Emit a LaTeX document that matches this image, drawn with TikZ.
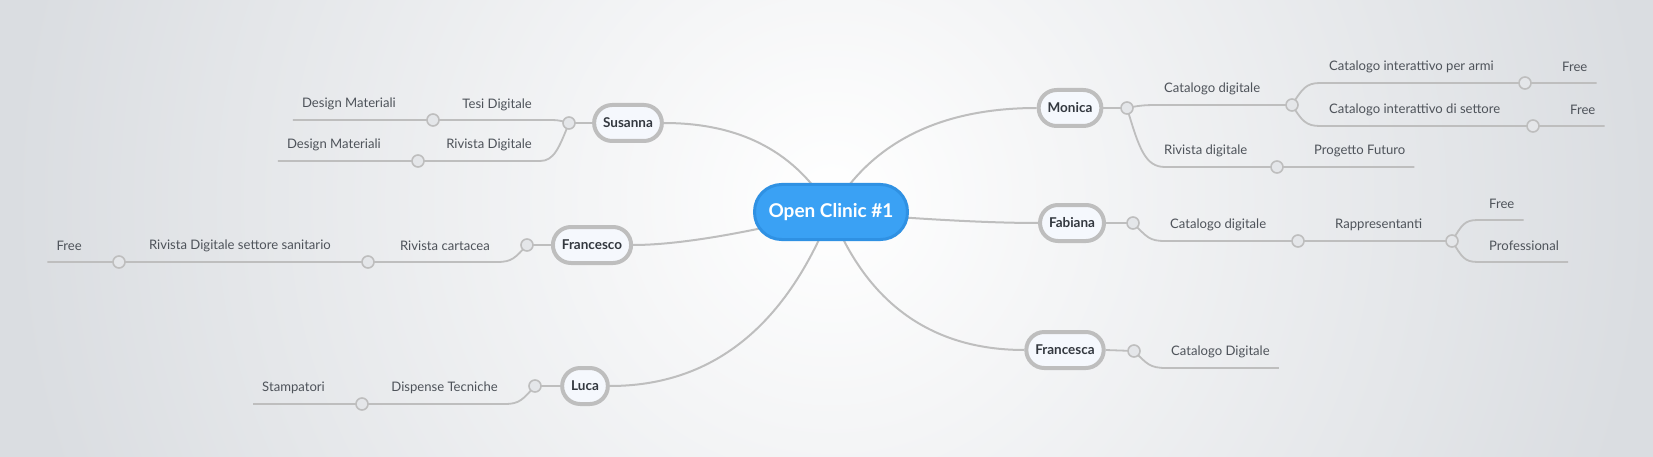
\documentclass[tikz,border=0pt]{standalone}
\usepackage{fontspec}
\setmainfont{Lato}
\usetikzlibrary{calc,backgrounds}
\definecolor{Sky}{HTML}{3AA1F4}
\definecolor{SkyEdge}{HTML}{2F91E3}
\definecolor{Canvas}{HTML}{DADDE1}
\definecolor{Wire}{HTML}{BEBEBE}
\definecolor{Ink}{HTML}{33383F}
\definecolor{SoftInk}{HTML}{4E535A}
\definecolor{Pill}{HTML}{F5F8FD}
\definecolor{Knob}{HTML}{E4E6E9}
\tikzset{
 hubnode/.style={draw=SkyEdge, line width=3pt, fill=Sky, rounded corners=27pt, minimum height=55pt, inner xsep=14pt, text=white, font=\fontsize{19}{22}\selectfont\bfseries},
 topicnode/.style={draw=Wire, line width=4pt, fill=Pill, rounded corners=18pt, minimum height=36pt, inner xsep=9pt, text=Ink, font=\fontsize{13.5}{16}\selectfont\bfseries},
 leafnode/.style={inner xsep=9pt, inner ysep=2pt, yshift=-2pt, text=SoftInk, font=\fontsize{13.1}{16}\selectfont},
 branchline/.style={draw=Wire, line width=2pt},
 twigline/.style={draw=Wire, line width=1.8pt},
 knob/.style={circle, draw=Wire, line width=1.6pt, fill=Knob, minimum size=12pt, inner sep=0pt}
}
\begin{document}
\begin{tikzpicture}[x=1pt,y=-1pt]
\useasboundingbox (0,0) rectangle (1653,457);
\begin{scope}[on background layer]
\clip (0,0) rectangle (1653,457);
\fill[Canvas] (0,0) rectangle (1653,457);
\shade[inner color=white, outer color=Canvas] (831,200) circle (820);
\end{scope}

% main topics
\node[hubnode] (hub) at (831,212) {Open Clinic \#1};
\node[topicnode] (sus) at (628,123) {Susanna};
\node[topicnode] (frc) at (592,245) {Francesco};
\node[topicnode] (luc) at (585,386) {Luca};
\node[topicnode] (mon) at (1070,108) {Monica};
\node[topicnode] (fab) at (1072,223) {Fabiana};
\node[topicnode] (fra) at (1065,350) {Francesca};

\begin{scope}[on background layer]
\draw[branchline] (hub.center) .. controls +(-34,-59) and +(78,0) .. (sus.east);
\draw[branchline] (hub.center) .. controls +(-87,22) and +(44,0) .. (frc.east);
\draw[branchline] (hub.center) .. controls +(-46,116) and +(101,0) .. (luc.east);
\draw[branchline] (hub.center) .. controls +(39,-69) and +(-97,0) .. (mon.west);
\draw[branchline] (hub.center) .. controls +(86,7) and +(-52,0) .. (fab.west);
\draw[branchline] (hub.center) .. controls +(36,92) and +(-92,0) .. (fra.west);
\end{scope}

% knobs and bends
\coordinate (monK) at (1127,108);
\coordinate (catK) at (1292,105);
\coordinate (armK) at (1525,83);
\coordinate (setK) at (1533,126);
\coordinate (rivK) at (1277,167);
\coordinate (fabK) at (1133,223);
\coordinate (fcatK) at (1298,241);
\coordinate (repK) at (1452,241);
\coordinate (fraK) at (1134,351);
\coordinate (susK) at (569,123);
\coordinate (tesiK) at (433,120);
\coordinate (srivK) at (418,161);
\coordinate (frcK) at (527,245);
\coordinate (cartK) at (368,262);
\coordinate (sanK) at (119,262);
\coordinate (lucK) at (535,386);
\coordinate (dispK) at (362,404);
\coordinate (monUp) at (1160,105);
\coordinate (monDn) at (1165,167);
\coordinate (catUp) at (1320,83);
\coordinate (catDn) at (1320,126);
\coordinate (fabDn) at (1165,241);
\coordinate (repUp) at (1478,220);
\coordinate (repDn) at (1478,262);
\coordinate (fraDn) at (1166,368);
\coordinate (susUp) at (545,120);
\coordinate (susDn) at (540,161);
\coordinate (frcDn) at (497,262);
\coordinate (lucDn) at (505,404);

% labels
\node[leafnode, anchor=west] (monCat) at (1155,87) {Catalogo digitale};
\node[leafnode, anchor=west] (monRiv) at (1155,149) {Rivista digitale};
\node[leafnode, anchor=west] (arm) at (1320,65) {Catalogo interattivo per armi};
\node[leafnode, anchor=west] (sett) at (1320,108) {Catalogo interattivo di settore};
\node[leafnode, anchor=west] (armFree) at (1553,65) {Free};
\node[leafnode, anchor=west] (setFree) at (1561,108) {Free};
\node[leafnode, anchor=west] (futuro) at (1305,149) {Progetto Futuro};
\node[leafnode, anchor=west] (fabCat) at (1161,223) {Catalogo digitale};
\node[leafnode, anchor=west] (rep) at (1326,223) {Rappresentanti};
\node[leafnode, anchor=west] (repFree) at (1480,202) {Free};
\node[leafnode, anchor=west] (repPro) at (1480,244) {Professional};
\node[leafnode, anchor=west] (fraCat) at (1162,350) {Catalogo Digitale};
\node[leafnode, anchor=east] (tesi) at (541,103) {Tesi Digitale};
\node[leafnode, anchor=east] (susRiv) at (541,143) {Rivista Digitale};
\node[leafnode, anchor=east] (desA) at (405,102) {Design Materiali};
\node[leafnode, anchor=east] (desB) at (390,143) {Design Materiali};
\node[leafnode, anchor=east] (cart) at (499,244) {Rivista cartacea};
\node[leafnode, anchor=east] (san) at (340,244) {Rivista Digitale settore sanitario};
\node[leafnode, anchor=east] (sanFree) at (91,244) {Free};
\node[leafnode, anchor=east] (disp) at (507,386) {Dispense Tecniche};
\node[leafnode, anchor=east] (stamp) at (334,386) {Stampatori};

% right side
\draw[twigline] (mon.east) -- (monK);
\draw[twigline] (monK) .. controls +(14,-3) and +(-12,0) .. (monUp) -- (catK);
\draw[twigline] (monK) .. controls +(12,40) and +(-20,0) .. (monDn) -- (rivK) -- (rivK -| futuro.east);
\draw[twigline] (catK) .. controls +(10,-16) and +(-14,0) .. (catUp) -- (armK) -- (armK -| armFree.east);
\draw[twigline] (catK) .. controls +(10,16) and +(-14,0) .. (catDn) -- (setK) -- (setK -| setFree.east);
\draw[twigline] (fab.east) -- (fabK);
\draw[twigline] (fabK) .. controls +(14,14) and +(-16,0) .. (fabDn) -- (fcatK) -- (repK);
\draw[twigline] (repK) .. controls +(10,-16) and +(-14,0) .. (repUp) -- (repUp -| repFree.east);
\draw[twigline] (repK) .. controls +(10,16) and +(-14,0) .. (repDn) -- (repDn -| repPro.east);
\draw[twigline] (fra.east) -- (fraK);
\draw[twigline] (fraK) .. controls +(13,13) and +(-16,0) .. (fraDn) -- (fraDn -| fraCat.east);
% left side
\draw[twigline] (sus.west) -- (susK);
\draw[twigline] (susK) .. controls +(-10,-3) and +(12,0) .. (susUp) -- (tesiK) -- (tesiK -| desA.west);
\draw[twigline] (susK) .. controls +(-10,25) and +(14,0) .. (susDn) -- (srivK) -- (srivK -| desB.west);
\draw[twigline] (frc.west) -- (frcK);
\draw[twigline] (frcK) .. controls +(-12,13) and +(15,0) .. (frcDn) -- (cartK) -- (sanK) -- (sanK -| sanFree.west);
\draw[twigline] (luc.west) -- (lucK);
\draw[twigline] (lucK) .. controls +(-12,13) and +(15,0) .. (lucDn) -- (dispK) -- (dispK -| stamp.west);

\foreach \k in {monK,catK,armK,setK,rivK,fabK,fcatK,repK,fraK,susK,tesiK,srivK,frcK,cartK,sanK,lucK,dispK}
 \node[knob] (\k o) at (\k) {};
\end{tikzpicture}
\end{document}
